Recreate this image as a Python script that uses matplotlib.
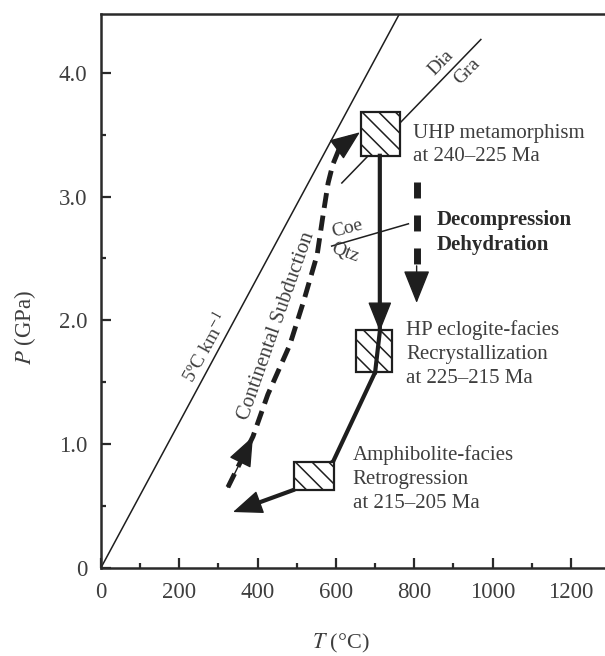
import matplotlib
matplotlib.use('Agg')
import matplotlib.pyplot as plt
from matplotlib.patches import Rectangle, FancyArrowPatch

plt.rcParams['font.family'] = ['Liberation Serif', 'DejaVu Serif']
plt.rcParams['mathtext.fontset'] = 'stix'
plt.rcParams['hatch.linewidth'] = 1.1

# axis ticks
temp_ticks = [0, 200, 400, 600, 800, 1000, 1200]
temp_minor = [100, 300, 500, 700, 900, 1100]
press_ticks = [0, 1, 2, 3, 4]
press_labels = ['0', '1.0', '2.0', '3.0', '4.0']
press_minor = [0.5, 1.5, 2.5, 3.5]

# reference lines (T in degC, P in GPa)
geotherm_T = [0, 800]
geotherm_P = [0, 4.70]
dia_gra_T = [615, 970]
dia_gra_P = [3.11, 4.27]
coe_qtz_T = [589, 785]
coe_qtz_P = [2.60, 2.78]

# metamorphic stages (boxes)
box_T = [(663, 764), (651, 744), (493, 596)]
box_P = [(3.33, 3.68), (1.58, 1.92), (0.63, 0.855)]

# prograde path (continental subduction)
sub_T = [324, 388, 426, 482, 518, 552, 567, 580, 592, 610, 636, 661]
sub_P = [0.65, 1.06, 1.40, 1.80, 2.16, 2.53, 2.85, 3.11, 3.26, 3.40, 3.48, 3.52]

# retrograde path
retro_T = [712, 712, 700, 593, 493, 337]
retro_P = [3.33, 1.91, 1.58, 0.86, 0.63, 0.45]

# decompression arrow
decomp_T = [806, 806]
decomp_P = [3.12, 2.14]

line_c = '#1e1e1e'
text_c = '#3e3e3e'

fig = plt.figure(figsize=(6.05, 6.56), dpi=100)
ax = fig.add_axes([101/605, 1 - 567.7/656, 504/605, 553.7/656])
ax.set_xlim(0, 1287)
ax.set_ylim(0, 4.476)


def head(p0, p1, z=5, scale=20):
    a = FancyArrowPatch(p0, p1, arrowstyle='-|>,head_length=0.95,head_width=0.38',
                        mutation_scale=scale, color=line_c, lw=1,
                        shrinkA=0, shrinkB=0, zorder=z)
    ax.add_patch(a)


def near(p0, p1, f=0.85):
    return (p0[0] + f * (p1[0] - p0[0]), p0[1] + f * (p1[1] - p0[1]))


# reference lines
ax.plot(geotherm_T, geotherm_P, color=line_c, lw=1.1, zorder=1)
ax.plot(dia_gra_T, dia_gra_P, color=line_c, lw=1.1, zorder=1)
ax.plot(coe_qtz_T, coe_qtz_P, color=line_c, lw=1.1, zorder=1)

# boxes
for (t0, t1), (p0, p1) in zip(box_T, box_P):
    ax.add_patch(Rectangle((t0, p0), t1 - t0, p1 - p0, facecolor='white',
                           edgecolor=line_c, hatch='\\\\', lw=1.6, zorder=3))

# subduction path
ax.plot(sub_T[:-1], sub_P[:-1], color=line_c, lw=3.5, dashes=(3.1, 1.6),
        solid_capstyle='butt', dash_capstyle='butt', zorder=2)
head((sub_T[0], sub_P[0]), (sub_T[1], sub_P[1]))
head((sub_T[-3], sub_P[-3]), (sub_T[-1], sub_P[-1]))

# retrograde path
ax.plot(retro_T[:3], retro_P[:3], color=line_c, lw=3, zorder=4)
end_pt = near((retro_T[-2], retro_P[-2]), (retro_T[-1], retro_P[-1]))
ax.plot(retro_T[2:-1] + [end_pt[0]], retro_P[2:-1] + [end_pt[1]],
        color=line_c, lw=3, zorder=2)
head((retro_T[0], retro_P[0]), (retro_T[1], retro_P[1]))
head((retro_T[-2], retro_P[-2]), (retro_T[-1], retro_P[-1]), z=2)

# decompression
ax.plot(decomp_T, [decomp_P[0], decomp_P[1] + 0.1], color=line_c, lw=5,
        dashes=(2.3, 2.45), dash_capstyle='butt', zorder=2)
head((decomp_T[0], decomp_P[1] + 0.3), (decomp_T[1], decomp_P[1]), scale=22)

# labels
fs = 15
ax.text(796, 3.417, 'UHP metamorphism\nat 240\u2013225 Ma', fontsize=fs, color=text_c,
        ha='left', va='center', linespacing=1.35)
ax.text(857, 2.71, 'Decompression\nDehydration', fontsize=fs, color='#2a2a2a',
        fontweight='bold', ha='left', va='center', linespacing=1.35)
ax.text(779, 1.728, 'HP eclogite-facies\nRecrystallization\nat 225\u2013215 Ma', fontsize=fs,
        color=text_c, ha='left', va='center', linespacing=1.35)
ax.text(643, 0.717, 'Amphibolite-facies\nRetrogression\nat 215\u2013205 Ma', fontsize=fs,
        color=text_c, ha='left', va='center', linespacing=1.35)
ax.text(449, 1.95, 'Continental Subduction', fontsize=fs, color=text_c,
        rotation=70.6, rotation_mode='anchor', ha='center', va='center')
ax.text(265, 1.78, '5\u00baC km$^{-1}$', fontsize=14, color=text_c,
        rotation=61, rotation_mode='anchor', ha='center', va='center')
ax.text(869, 4.084, 'Dia', fontsize=14, color=text_c, rotation=45.8,
        rotation_mode='anchor', ha='center', va='center')
ax.text(934, 4.011, 'Gra', fontsize=14, color=text_c, rotation=45.8,
        rotation_mode='anchor', ha='center', va='center')
ax.text(628, 2.738, 'Coe', fontsize=14, color=text_c, rotation=15,
        rotation_mode='anchor', ha='center', va='center')
ax.text(623, 2.544, 'Qtz', fontsize=14, color=text_c, rotation=-20,
        rotation_mode='anchor', ha='center', va='center')

# axes styling
ax.spines['right'].set_visible(False)
for s in ['left', 'bottom', 'top']:
    ax.spines[s].set_linewidth(1.8)
    ax.spines[s].set_color('#2a2a2a')
ax.set_xticks(temp_ticks)
ax.set_xticks(temp_minor, minor=True)
ax.set_yticks(press_ticks)
ax.set_yticklabels(press_labels)
ax.set_yticks(press_minor, minor=True)
ax.tick_params(which='both', direction='in', width=1.6, color='#2a2a2a',
               labelsize=16.5, labelcolor=text_c, pad=10, top=False, right=False)
ax.tick_params(which='major', length=7)
ax.tick_params(which='minor', length=3.5)

ax.set_xlabel('$T$ (\u00b0C)', fontsize=16, color=text_c, va='center')
ax.xaxis.set_label_coords(0.476, -0.136)
ax.set_ylabel('$P$ (GPa)', fontsize=16.5, color=text_c, va='center')
ax.yaxis.set_label_coords(-0.1508, 0.4338)

fig.savefig('out.png', dpi=100)
